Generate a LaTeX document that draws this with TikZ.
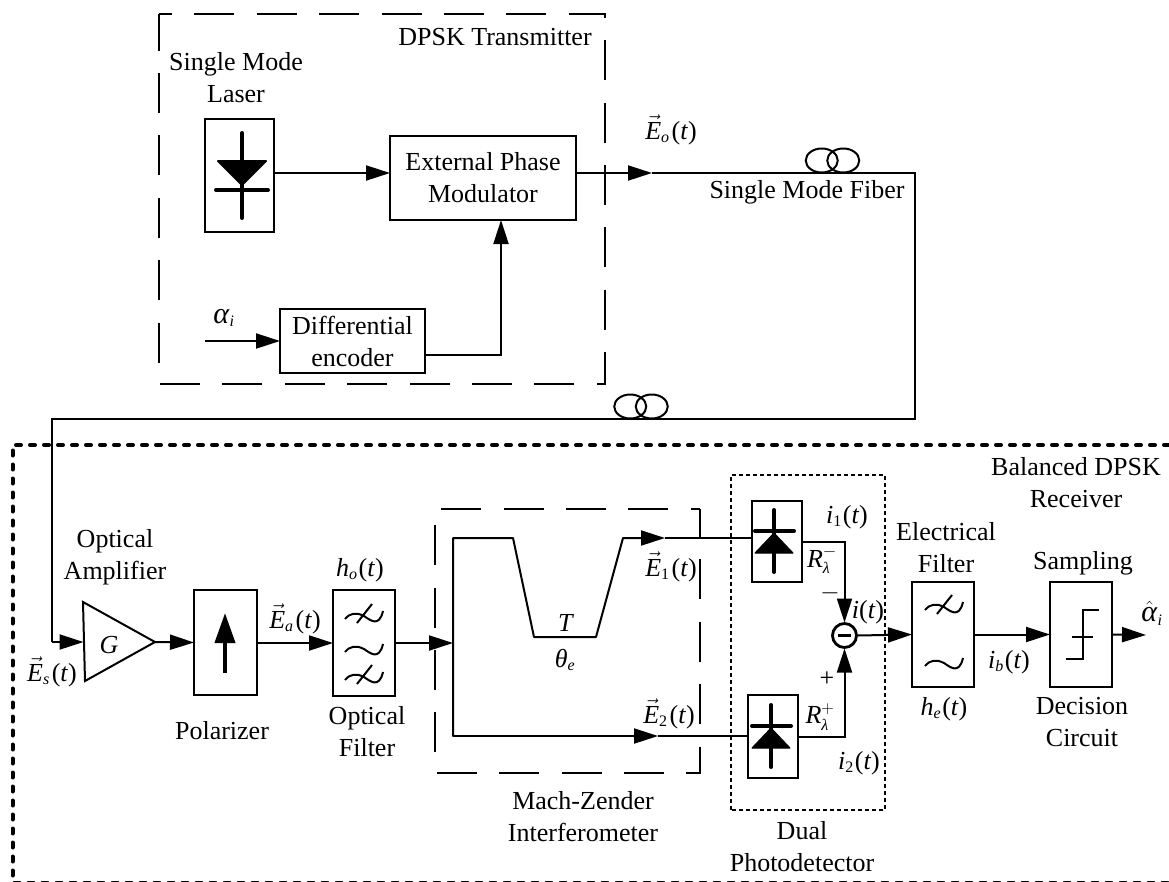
\documentclass[tikz,border=0pt]{standalone}
\usepackage{amsmath}
\usepackage{fontspec}
\setmainfont{Liberation Serif}
\DeclareMathSizes{26}{26}{16}{13}
\usetikzlibrary{arrows.meta,positioning}
\colorlet{penColor}{black}
\newcommand{\mi}[1]{\textit{#1}}
\newcommand{\field}[1]{$\vec{\mi{E}}_{#1}$\kern2pt(\mi{t})}
\newcommand{\timed}[2]{\mi{#1}$_{#2}$\kern1pt(\mi{t})}
\newcommand{\bigalpha}{{\fontsize{30}{30}\selectfont\mi{α}}}
\tikzset{>={Triangle[length=24pt,width=15pt]}}
\tikzset{
	pen/.style={penColor, line width=2pt},
	block/.style={pen, draw, inner sep=0pt, outer sep=0pt},
	label/.style={inner sep=0pt, align=center, font=\fontsize{26}{32}\selectfont},
	longdash/.style={pen, dash pattern=on 40pt off 22.4pt},
	outerdots/.style={penColor, line width=4pt, line cap=round, dash pattern=on 5pt off 9pt},
	innerdots/.style={penColor, line width=2.6pt, dash pattern=on 4pt off 3pt},
	laserdiode/.pic={
		\draw[penColor, line width=4pt, line cap=round] (0,-42) -- (0,43);
		\draw[penColor, line width=4pt, line cap=round] (-26,15) -- (26,15);
		\fill[penColor, draw, line width=2pt, line join=round] (-24,-14) -- (24,-14) -- (0,10) -- cycle;
	},
	photodiode/.pic={
		\draw[penColor, line width=4pt, line cap=round] (0,-31) -- (0,31);
		\draw[penColor, line width=4pt, line cap=round] (-19,-10) -- (20,-10);
		\fill[penColor, draw, line width=1pt, line join=round] (0,-8) -- (19,12) -- (-19,12) -- cycle;
	},
	wave/.pic={
		\draw[pen] (-19,3) .. controls (-14,-3) and (-8,-4) .. (0,0) .. controls (6,4) and (15,12) .. (19,-5);
	},
	lowpass/.pic={
		\draw[pen] (-19,3) .. controls (-14,-3) and (-8,-4) .. (0,0) .. controls (6,4) and (15,12) .. (19,-5);
		\draw[pen] (-7,7) -- (8,-12);
	},
	coil/.pic={
		\draw[pen] (-10.75,0) ellipse (16 and 12);
		\draw[pen] (10.75,0) ellipse (16 and 12);
	},
}

\begin{document}
\begin{tikzpicture}[x=1pt,y=-1pt]
	\useasboundingbox (0,0) rectangle (1169,881);

	% transmitter
	\draw[longdash, dash phase=27pt] (159,14) -- (605,14) -- (605,384) -- (159,384) -- cycle;
	\node[label] (txLabel) at (495,37) {DPSK Transmitter};
	\node[label] (laserLabel) at (236,78) {Single Mode\\Laser};
	\node[block, minimum width=69pt, minimum height=113pt] (laser) at (239.5,175.5) {};
	\pic at (242,175) {laserdiode};
	\node[block, minimum width=186pt, minimum height=84pt] (modulator) at (483,178) {};
	\node[label] (modLabel) at (483,178) {External Phase\\Modulator};
	\node[block, minimum width=145pt, minimum height=64pt] (encoder) at (352.5,341) {};
	\node[label] (encLabel) at (352.5,341) {Differential\\encoder};
	\node[label] (alphaIn) at (224,318) {\bigalpha$_{\mi{i}}$};
	\coordinate (dataIn) at (205,341);
	\coordinate (encBend) at (501,355);
	\draw[pen, ->] (laser.east |- 0,173) -- (modulator.west |- 0,173);
	\draw[pen, ->] (dataIn) -- (encoder.west);
	\draw[pen, ->] (encoder.east |- encBend) -- (encBend) -- (encBend |- modulator.south);

	% fiber
	\coordinate (eoTip) at (652,173);
	\coordinate (fiberTop) at (915,173);
	\coordinate (fiberLow) at (915,418.5);
	\coordinate (fiberLeft) at (52,418.5);
	\coordinate (esBend) at (52,642);
	\draw[pen, ->] (modulator.east |- eoTip) -- (eoTip);
	\draw[pen, line join=miter] (eoTip) -- (fiberTop) -- (fiberLow) -- (fiberLeft) -- (esBend);
	\pic at (832.5,160.5) {coil};
	\pic at (641,406.5) {coil};
	\node[label] (eoLabel) at (671,130) {\field{\mi{o}}};
	\node[label] (fiberLabel) at (807,192) {Single Mode Fiber};

	% receiver
	\draw[outerdots] (1169,445) -- (12.5,445) -- (12.5,882.5) -- (1169,882.5);
	\node[label] (rxLabel) at (1076,483) {Balanced DPSK\\Receiver};

	\coordinate (ampTop) at (83,602);
	\coordinate (ampBot) at (85,681);
	\coordinate (ampTip) at (155,642);
	\coordinate (ampIn) at (83.5,642);
	\draw[pen] (ampTop) -- (ampTip) -- (ampBot) -- cycle;
	\draw[pen, ->] (esBend) -- (ampIn);
	\node[label] (gain) at (109,645) {\mi{G}};
	\node[label] (ampLabel) at (115,557) {Optical\\Amplifier};
	\node[label] (esLabel) at (52,672) {\field{\mi{s}}};

	\node[block, minimum width=63pt, minimum height=105pt] (polarizer) at (225.5,642.5) {};
	\draw[penColor, line width=4pt, -{Triangle[length=30pt,width=20pt]}] (225,673) -- (225,613);
	\node[label] (polLabel) at (222,731) {Polarizer};
	\draw[pen, ->] (ampTip) -- (polarizer.west);

	\node[block, minimum width=62pt, minimum height=106pt] (optFilter) at (364,643) {};
	\pic at (364,616) {lowpass};
	\pic at (364,649) {wave};
	\pic at (364,677) {lowpass};
	\node[label] (eaLabel) at (295,619) {\field{\mi{a}}};
	\node[label] (hoLabel) at (360,570) {\timed{h}{\mi{o}}};
	\node[label] (optLabel) at (367,732) {Optical\\Filter};
	\draw[pen, ->] (polarizer.east |- optFilter.west) -- (optFilter.west);

	% interferometer
	\draw[longdash, dash phase=12pt] (700,509) -- (700,773) -- (435,773) -- (435,509) -- cycle;
	\coordinate (split) at (453,643);
	\coordinate (armTop) at (453,538);
	\coordinate (armLow) at (453,736);
	\coordinate (delayA) at (513,538);
	\coordinate (delayB) at (534,637);
	\coordinate (delayC) at (596,637);
	\coordinate (delayD) at (623,538);
	\coordinate (e1Tip) at (665,538);
	\coordinate (e2Tip) at (658,736);
	\draw[pen, ->] (optFilter.east) -- (split);
	\draw[pen, ->, line join=round] (armLow) -- (armTop) -- (delayA) -- (delayB) -- (delayC) -- (delayD) -- (e1Tip);
	\draw[pen, ->, line join=round] (armTop) -- (armLow) -- (e2Tip);
	\node[label] (delayT) at (566,623) {\mi{T}};
	\node[label] (theta) at (565,660) {$\mi{θ}_{\mi{e}}$};
	\node[label] (e1Label) at (671,567) {\field{\textup{1}}};
	\node[label] (e2Label) at (669,714) {\field{\textup{2}}};
	\node[label] (mzLabel) at (583,817) {Mach-Zender\\Interferometer};

	% photodetector
	\draw[innerdots] (731,810) -- (731,475) -- (885,475) -- (885,810) -- cycle;
	\node[block, minimum width=50pt, minimum height=81pt] (pdOne) at (777,541.5) {};
	\node[block, minimum width=50pt, minimum height=83pt] (pdTwo) at (773,736.5) {};
	\pic at (774,541) {photodiode};
	\pic at (771,736) {photodiode};
	\draw[pen] (e1Tip) -- (e1Tip -| pdOne.west);
	\draw[pen] (e2Tip) -- (e2Tip -| pdTwo.west);
	\node[circle, draw, penColor, line width=2.8pt, minimum size=24pt, inner sep=0pt, outer sep=1pt] (sub) at (844.5,635.5) {};
	\draw[penColor, line width=3pt] ([xshift=-6.5pt]sub.center) -- ([xshift=6.5pt]sub.center);
	\draw[pen, ->] (pdOne.east) -| (sub.north);
	\draw[pen, ->] (pdTwo.east) -| (sub.south);
	\node[label] (i1Label) at (847,517) {\timed{i}{\textup{1}}};
	\node[label] (rMinus) at (822,560) {$\mi{R}_{\mi{λ}}^{-}$};
	\node[label] (minusSign) at (830,593) {$-$};
	\node[label] (iLabel) at (868,612) {\mi{i}(\mi{t})};
	\node[label] (plusSign) at (827,679) {+};
	\node[label] (rPlus) at (820,717) {$\mi{R}_{\mi{λ}}^{+}$};
	\node[label] (i2Label) at (859,763) {\timed{i}{\textup{2}}};
	\node[label] (pdLabel) at (802,847) {Dual\\Photodetector};

	% electrical part
	\node[block, minimum width=62pt, minimum height=105pt] (elecFilter) at (943,634.5) {};
	\pic at (944,607) {lowpass};
	\pic at (944,663) {wave};
	\node[block, minimum width=62pt, minimum height=105pt] (sampler) at (1081,634.5) {};
	\draw[pen] (1066,659) -- (1083,659) -- (1083,610) -- (1099,610);
	\draw[pen] (1072,637) -- (1093,637);
	\coordinate (outTip) at (1146,635);
	\draw[pen, ->] (sub.east) -- (elecFilter.west);
	\draw[pen, ->] (elecFilter.east) -- (sampler.west);
	\draw[pen, ->] (sampler.east) -- (outTip);
	\node[label] (elecLabel) at (946,548) {Electrical\\Filter};
	\node[label] (heLabel) at (944,709) {\timed{h}{\mi{e}}};
	\node[label] (ibLabel) at (1009,662) {\timed{i}{\mi{b}}};
	\node[label] (sampLabel) at (1083,563) {Sampling};
	\node[label] (decLabel) at (1082,722) {Decision\\Circuit};
	\node[label] (alphaOut) at (1152,613) {$\hat{\text{\bigalpha}}_{\mi{i}}$};
\end{tikzpicture}
\end{document}
